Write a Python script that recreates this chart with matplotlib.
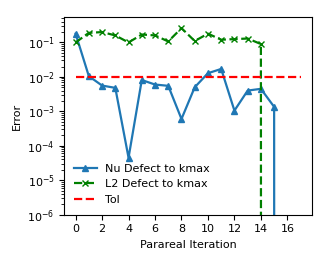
import numpy as np
import matplotlib
matplotlib.use("Agg")
import matplotlib.pyplot as plt

# values
nu_defect = [0.18, 0.0105, 0.0056, 0.0048, 4.5e-5, 0.0081, 0.006, 0.0055, 6e-4,
             0.005, 0.0128, 0.017, 1.05e-3, 0.004, 0.0045, 1.35e-3, 0.0]
l2_defect = [0.1, 0.19, 0.2, 0.16, 0.1, 0.17, 0.16, 0.107, 0.26, 0.11, 0.18,
             0.12, 0.125, 0.13, 0.09, 0.0]
tol = 0.01
tol_x = [0, 17]

plt.rcParams['font.size'] = 8

fig = plt.figure(figsize=(3.3, 2.65), dpi=100)
ax = fig.add_subplot(1, 1, 1)

ax.semilogy(range(len(nu_defect)), nu_defect, '-^', color='C0', lw=1.6, ms=4,
            label='Nu Defect to kmax')
ax.semilogy(range(len(l2_defect)), l2_defect, '--x', color='green', lw=1.6, ms=4,
            label='L2 Defect to kmax')
ax.semilogy(tol_x, [tol, tol], '--', color='red', lw=1.6, label='Tol')

ax.set_ylim(1e-6, 0.54)
ax.set_xticks(range(0, 17, 2))
ax.set_xlabel('Parareal Iteration')
ax.set_ylabel('Error')
ax.legend(loc='lower left', frameon=False)

plt.subplots_adjust(left=0.195, right=0.945, top=0.935, bottom=0.19)
fig.savefig('out.png', dpi=100)
